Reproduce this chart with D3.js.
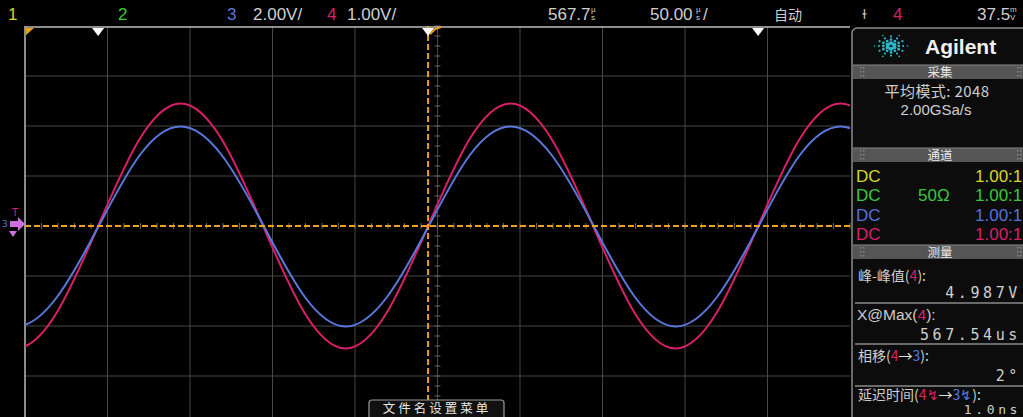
<!DOCTYPE html>
<html>
<head>
<meta charset="utf-8">
<script src="https://cdn.jsdelivr.net/npm/d3@7"></script>
<style>
  html, body { margin: 0; padding: 0; background: #000; }
  svg { display: block; }
</style>
</head>
<body>
<div id="scope"></div>
<script>
const W = 1023, H = 417;

const timeStart = 317.7;
const timePerDiv = 50;
const sampleTimes = [262, 287, 312, 337, 362, 387, 412, 437, 462, 487, 512, 537, 562, 587, 612, 637, 662, 687, 712, 737, 762, 787, 812, 837, 862, 887];
const ch4Volts = [0, -1.73, -2.45, -1.73, 0, 1.73, 2.45, 1.73, 0, -1.73, -2.45, -1.73, 0, 1.73, 2.45, 1.73, 0, -1.73, -2.45, -1.73, 0, 1.73, 2.45, 1.73, 0, -1.73];
const ch3Volts = [-0.05, -2.81, -4.02, -2.85, -0.05, 2.81, 3.98, 2.83, 0.05, -2.81, -4.02, -2.85, -0.05, 2.81, 3.98, 2.83, 0.05, -2.81, -4.02, -2.85, -0.05, 2.81, 3.98, 2.83, 0.05, -2.81];
const ch3VoltsPerDiv = 2.0;
const ch4VoltsPerDiv = 1.0;
const triggerTime = 562;
const markerTimes = [362, 762];

// panel text
const channelRows = [
  { label: "DC", imp: "", ratio: "1.00:1", color: "#d8d62a" },
  { label: "DC", imp: "50Ω", ratio: "1.00:1", color: "#3cc83c" },
  { label: "DC", imp: "", ratio: "1.00:1", color: "#5872d8" },
  { label: "DC", imp: "", ratio: "1.00:1", color: "#d8206a" }
];

const colors = {
  ch1: "#d8d62a", ch2: "#3cc83c", ch3: "#5a78dc", ch4: "#d8206a",
  trig: "#f0a020", text: "#cfcfcf", grid: "#474747"
};

const svg = d3.select("#scope").append("svg")
  .attr("width", W).attr("height", H)
  .style("background", "#000");

// graticule
const gLeft = 25, gRight = 850, gTop = 26, gBottom = 426;
const x = d3.scaleLinear().domain([timeStart, timeStart + 10 * timePerDiv]).range([gLeft, gRight]);
const y3 = d3.scaleLinear().domain([-4 * ch3VoltsPerDiv, 4 * ch3VoltsPerDiv]).range([gBottom, gTop]);
const y4 = d3.scaleLinear().domain([-4 * ch4VoltsPerDiv, 4 * ch4VoltsPerDiv]).range([gBottom, gTop]);
const divX = d3.scaleLinear().domain([0, 10]).range([gLeft, gRight]);
const divY = d3.scaleLinear().domain([-4, 4]).range([gBottom, gTop]);

const grid = svg.append("g");
grid.selectAll("line.vx").data(d3.range(1, 10)).join("line")
  .attr("x1", d => divX(d)).attr("x2", d => divX(d))
  .attr("y1", gTop).attr("y2", H)
  .attr("stroke", colors.grid).attr("stroke-width", 1);
grid.selectAll("line.hy").data([-3, -2, -1, 1, 2, 3]).join("line")
  .attr("x1", gLeft).attr("x2", gRight)
  .attr("y1", d => divY(d)).attr("y2", d => divY(d))
  .attr("stroke", colors.grid).attr("stroke-width", 1);

// minor ticks on centre axes
grid.selectAll("line.tx").data(d3.range(0, 50.01, 1)).join("line")
  .attr("x1", d => divX(d / 5)).attr("x2", d => divX(d / 5))
  .attr("y1", divY(0) - 3).attr("y2", divY(0) + 3)
  .attr("stroke", "#666");
grid.selectAll("line.ty").data(d3.range(-20, 20.01, 1)).join("line")
  .attr("x1", divX(5) - 3).attr("x2", divX(5) + 3)
  .attr("y1", d => divY(d / 5)).attr("y2", d => divY(d / 5))
  .attr("stroke", "#666");

// borders
svg.append("line").attr("x1", gLeft).attr("x2", gLeft).attr("y1", gTop).attr("y2", H)
  .attr("stroke", "#bbb").attr("stroke-width", 1.5);
svg.append("line").attr("x1", gLeft).attr("x2", gRight).attr("y1", gTop + 1).attr("y2", gTop + 1)
  .attr("stroke", "#bbb").attr("stroke-width", 1.5);

// traces
svg.append("clipPath").attr("id", "clip").append("rect")
  .attr("x", gLeft).attr("y", gTop).attr("width", gRight - gLeft).attr("height", gBottom - gTop);

const traces = svg.append("g").attr("clip-path", "url(#clip)");
const line3 = d3.line().x((d, i) => x(sampleTimes[i])).y(d => y3(d)).curve(d3.curveNatural);
const line4 = d3.line().x((d, i) => x(sampleTimes[i])).y(d => y4(d)).curve(d3.curveNatural);
traces.append("path").datum(ch4Volts).attr("d", line4)
  .attr("fill", "none").attr("stroke", colors.ch4).attr("stroke-width", 2);
traces.append("path").datum(ch3Volts).attr("d", line3)
  .attr("fill", "none").attr("stroke", colors.ch3).attr("stroke-width", 2);

// trigger lines
svg.append("line").attr("x1", gLeft).attr("x2", gRight).attr("y1", y3(0)).attr("y2", y3(0))
  .attr("stroke", colors.trig).attr("stroke-width", 2).attr("stroke-dasharray", "6,3");
svg.append("line").attr("x1", x(triggerTime)).attr("x2", x(triggerTime)).attr("y1", gTop).attr("y2", H)
  .attr("stroke", colors.trig).attr("stroke-width", 2).attr("stroke-dasharray", "6,3");

// top markers
svg.append("path").attr("d", `M${gLeft + 1},${gTop + 2}L${gLeft + 9},${gTop + 2}L${gLeft + 1},${gTop + 9}Z`)
  .attr("fill", colors.trig);
svg.selectAll("path.mk").data(markerTimes.concat([triggerTime])).join("path")
  .attr("d", d => `M${x(d) - 6},${gTop + 2}L${x(d) + 6},${gTop + 2}L${x(d)},${gTop + 10}Z`)
  .attr("fill", "#fff");
svg.append("path")
  .attr("d", `M${x(triggerTime) + 2},${gTop + 8}L${x(triggerTime) + 7},${gTop + 3}L${x(triggerTime) + 13},${gTop + 1}`)
  .attr("fill", "none").attr("stroke", colors.trig).attr("stroke-width", 2);

// trigger level marker at left
const lvl = y3(0);
svg.append("path").attr("d", `M10,${lvl - 5}L18,${lvl - 5}L18,${lvl - 9}L25,${lvl - 2}L18,${lvl + 5}L18,${lvl + 1}L10,${lvl + 1}Z`)
  .attr("fill", "#d070e0");
svg.append("path").attr("d", `M9,${lvl + 5}L17,${lvl + 5}L13,${lvl + 11}Z`).attr("fill", "#d070e0");
svg.append("text").attr("x", 15).attr("y", lvl - 10).attr("text-anchor", "middle")
  .attr("font-family", "DejaVu Sans").attr("font-size", 10).attr("fill", colors.ch4).text("T");
svg.append("text").attr("x", 2).attr("y", lvl + 1)
  .attr("font-family", "DejaVu Sans").attr("font-size", 9).attr("fill", colors.ch3).text("3");

// top status bar
const topFont = "Liberation Sans";
const topBar = [
  { x: 8, t: "1", c: colors.ch1 },
  { x: 118, t: "2", c: colors.ch2 },
  { x: 227, t: "3", c: colors.ch3 },
  { x: 253, t: "2.00V/", c: colors.text },
  { x: 327, t: "4", c: colors.ch4 },
  { x: 347, t: "1.00V/", c: colors.text },
  { x: 548, t: "567.7", c: colors.text },
  { x: 650, t: "50.00", c: colors.text },
  { x: 774, t: "自动", c: colors.text },
  { x: 893, t: "4", c: colors.ch4 },
  { x: 977, t: "37.5", c: colors.text }
];
svg.selectAll("text.top").data(topBar).join("text")
  .attr("x", d => d.x).attr("y", 20)
  .attr("font-family", d => /[\u4e00-\u9fff]/.test(d.t) ? "Noto Sans CJK SC" : topFont)
  .attr("font-size", d => /[\u4e00-\u9fff]/.test(d.t) ? 14 : 17)
  .attr("fill", d => d.c).text(d => d.t);

// stacked small units
function smallUnit(x0, top, bottom) {
  svg.append("text").attr("x", x0).attr("y", 12).attr("font-family", topFont)
    .attr("font-size", 8).attr("fill", colors.text).text(top);
  svg.append("text").attr("x", x0).attr("y", 20).attr("font-family", topFont)
    .attr("font-size", 8).attr("fill", colors.text).text(bottom);
}
smallUnit(591, "µ", "s");
smallUnit(696, "µ", "s");
svg.append("text").attr("x", 703).attr("y", 20).attr("font-family", topFont)
  .attr("font-size", 17).attr("fill", colors.text).text("/");
smallUnit(1010, "m", "V");
svg.append("text").attr("x", 862).attr("y", 19).attr("font-family", "DejaVu Sans")
  .attr("font-size", 12).attr("fill", colors.text).text("ɫ");

// right panel
const px = 852;
const panel = svg.append("g");
panel.append("rect").attr("x", px).attr("y", 28).attr("width", W - px + 6).attr("height", H)
  .attr("rx", 5).attr("fill", "#0c0c0c").attr("stroke", "#8a8a8a").attr("stroke-width", 1.5);

// logo: spark of dots
const logo = panel.append("g").attr("transform", "translate(891,46)");
d3.range(0, 360, 30).forEach((a, k) => {
  const rs = k % 2 === 0 ? [3, 7, 11, 15] : [4, 8, 12];
  rs.forEach((r, j) => {
    logo.append("circle")
      .attr("cx", r * Math.cos(a * Math.PI / 180) * 1.1).attr("cy", r * Math.sin(a * Math.PI / 180) * 0.8)
      .attr("r", 1.7 - j * 0.3).attr("fill", "#2fb5c9");
  });
});
panel.append("text").attr("x", 925).attr("y", 54).attr("font-family", "Liberation Sans")
  .attr("font-weight", "bold").attr("font-size", 21).attr("fill", "#f0f0f0").text("Agilent");

function header(yTop, label) {
  panel.append("rect").attr("x", px + 1).attr("y", yTop).attr("width", W - px).attr("height", 14)
    .attr("fill", "#555");
  panel.append("line").attr("x1", px + 1).attr("x2", W).attr("y1", yTop).attr("y2", yTop).attr("stroke", "#888");
  panel.append("text").attr("x", 940).attr("y", yTop + 11.5).attr("text-anchor", "middle")
    .attr("font-family", "Noto Sans CJK SC").attr("font-size", 12.5).attr("fill", "#e8e8e8").text(label);
  [px + 8, W - 6].forEach(gx => {
    [3, 7, 11].forEach(dy => {
      panel.append("rect").attr("x", gx).attr("y", yTop + dy - 1).attr("width", 1.5).attr("height", 1.5).attr("fill", "#888");
      panel.append("rect").attr("x", gx + 3).attr("y", yTop + dy - 1).attr("width", 1.5).attr("height", 1.5).attr("fill", "#888");
    });
  });
}
header(65, "采集");
header(148, "通道");
header(245, "测量");

panel.append("text").attr("x", 937).attr("y", 97).attr("text-anchor", "middle")
  .attr("font-family", "Noto Sans CJK SC").attr("font-size", 15).attr("letter-spacing", 0.4)
  .attr("fill", colors.text).text("平均模式: 2048");
panel.append("text").attr("x", 936).attr("y", 115).attr("text-anchor", "middle")
  .attr("font-family", "Liberation Sans").attr("font-size", 15).attr("fill", colors.text).text("2.00GSa/s");

const rowY = d3.scaleLinear().domain([0, 3]).range([182, 240]);
channelRows.forEach((r, i) => {
  panel.append("text").attr("x", 856).attr("y", rowY(i)).attr("font-family", topFont)
    .attr("font-size", 17).attr("fill", r.color).text(r.label);
  panel.append("text").attr("x", 918).attr("y", rowY(i)).attr("font-family", topFont)
    .attr("font-size", 17).attr("fill", r.color).text(r.imp);
  panel.append("text").attr("x", 975).attr("y", rowY(i)).attr("font-family", topFont)
    .attr("font-size", 17).attr("fill", r.color).text(r.ratio);
});

// measurements
const cjk = "Noto Sans CJK SC";
function label(yy, parts) {
  const t = panel.append("text").attr("x", 858).attr("y", yy).attr("font-family", cjk)
    .attr("font-size", 14).attr("fill", colors.text);
  parts.forEach(p => t.append("tspan").attr("fill", p[1] || colors.text).text(p[0]));
}
function value(yy, txt, size) {
  panel.append("text").attr("x", 1021).attr("y", yy).attr("text-anchor", "end")
    .attr("font-family", "DejaVu Sans Mono").attr("font-size", size || 15).attr("letter-spacing", 3.6)
    .attr("fill", colors.text).text(txt);
}
function sep(yy) {
  panel.append("line").attr("x1", px + 3).attr("x2", W).attr("y1", yy).attr("y2", yy)
    .attr("stroke", "#8a8a8a").attr("stroke-width", 1.5);
}
label(281, [["峰-峰值("], ["4", colors.ch4], ["):"]]);
value(298, "4.987V");
sep(303);
panel.append("text").attr("x", 857).attr("y", 320).attr("font-family", "Liberation Sans")
  .attr("font-size", 15.5).attr("fill", colors.text)
  .call(t => { t.append("tspan").text("X@Max("); t.append("tspan").attr("fill", colors.ch4).text("4"); t.append("tspan").text("):"); });
value(340, "567.54us");
sep(344);
label(361, [["相移("], ["4", colors.ch4], ["→", "#e0e0e0"], ["3", colors.ch3], ["):"]]);
value(381, "2°");
sep(386);
label(400, [["延迟时间("], ["4↯", colors.ch4], ["→", "#e0e0e0"], ["3↯", colors.ch3], ["):"]]);
value(414, "1.0ns", 13);

// bottom softkey label
svg.append("rect").attr("x", 369).attr("y", 400).attr("width", 135).attr("height", 24).attr("rx", 3)
  .attr("fill", "#111").attr("stroke", "#9a9a9a").attr("stroke-width", 1.2);
svg.append("text").attr("x", 437).attr("y", 412.5).attr("text-anchor", "middle")
  .attr("font-family", cjk).attr("font-size", 12.5).attr("letter-spacing", 3).attr("fill", "#e8e8e8").text("文件名设置菜单");
</script>
</body>
</html>
